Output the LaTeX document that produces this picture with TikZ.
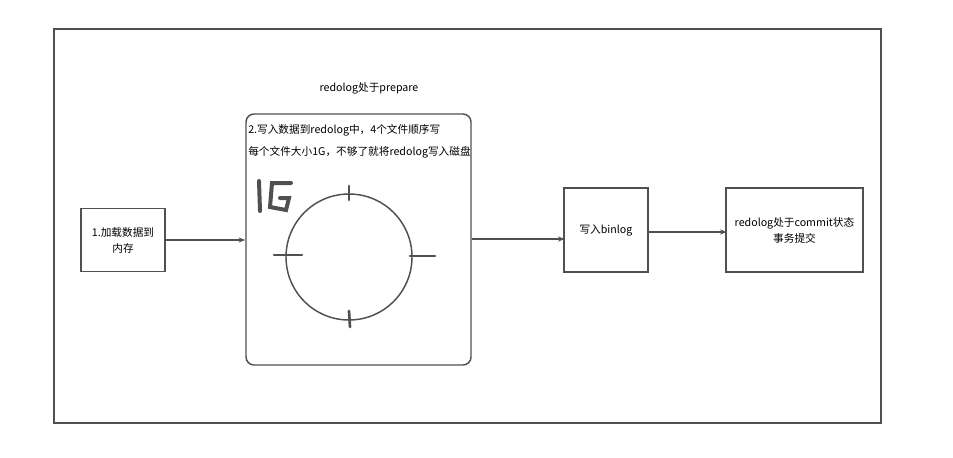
\documentclass[tikz,border=0pt]{standalone}
\usepackage{fontspec}
\setmainfont{Noto Sans CJK SC}
\usetikzlibrary{arrows.meta}
\definecolor{line}{HTML}{505050}
\tikzset{
  box/.style={draw=line, line width=1.1pt, align=center, font=\fontsize{8}{12}\selectfont, inner sep=0pt},
  flow/.style={draw=line, line width=1.1pt, -{Stealth[length=5pt]}},
  tick/.style={draw=line, line width=2pt, line cap=round}}
\begin{document}
\begin{tikzpicture}[x=0.75pt,y=-0.75pt]
\useasboundingbox (0,0) rectangle (953,457);
\draw[line, line width=1.1pt] (54,29) rectangle (881,423);

% boxes
\node[box, minimum width=84*0.75pt, minimum height=63*0.75pt] (load) at (123,240) {1.加载数据到\\内存};
\node[box, rounded corners=6pt, minimum width=225*0.75pt, minimum height=251*0.75pt] (redo) at (358.5,239.5) {};
\node[font=\fontsize{8}{12}\selectfont] (prep) at (369,88) {redolog处于prepare};
\node[font=\fontsize{8}{17}\selectfont, anchor=north west, align=left, inner sep=0pt] (redotxt) at (248,124)
  {2.写入数据到redolog中，4个文件顺序写\\每个文件大小1G，不够了就将redolog写入磁盘};
\node[box, minimum width=84*0.75pt, minimum height=84*0.75pt] (bin) at (606,230) {写入binlog};
\node[box, minimum width=137*0.75pt, minimum height=84*0.75pt] (commit) at (794.5,230) {redolog处于commit状态\\事务提交};

% ring of files
\draw[line, line width=1.1pt] (349,257) circle (63);
\draw[tick] (349,186) -- (349,200);
\draw[tick] (274,255) -- (302,255);
\draw[tick] (410,256) -- (435,256);
\draw[tick] (349,311) -- (350,327);
\draw[tick, line width=3pt] (259,181) -- (260,211);
\draw[tick, line width=3pt] (291,183) -- (272,183) -- (270,207) -- (286,210) -- (289,198) -- (280,198);

% flow
\draw[flow] (load.east) -- (redo.west |- load.east);
\draw[flow] (redo.east |- bin.west) ++(0,9) -- ++(93,0);
\draw[flow] (bin.east) ++(0,2) -- ++(78,0);
\end{tikzpicture}
\end{document}
